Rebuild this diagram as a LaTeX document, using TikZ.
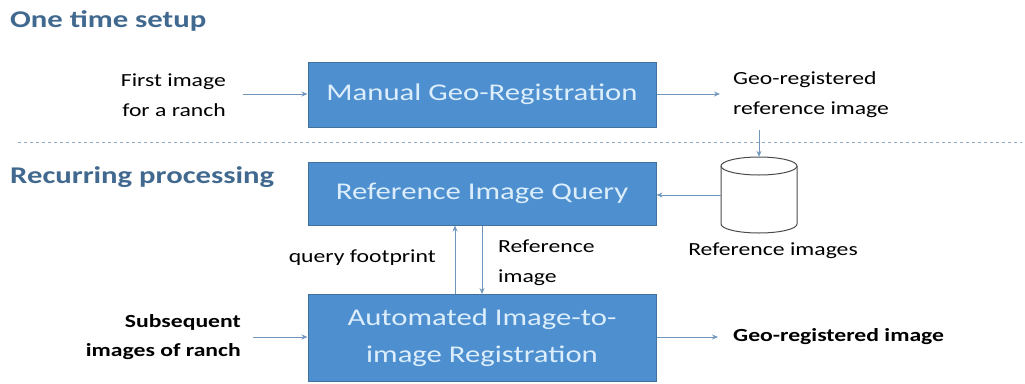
\documentclass[tikz,border=0pt]{standalone}
\usepackage{fontspec}
\setmainfont{Carlito}[FakeStretch=1.28]
\usetikzlibrary{arrows.meta}
\definecolor{boxfill}{HTML}{4E8FD0}
\definecolor{boxline}{HTML}{41719C}
\definecolor{boxtext}{HTML}{DCEEFB}
\definecolor{titlecol}{HTML}{41698F}
\definecolor{arrowcol}{HTML}{7096BE}
\definecolor{dashcol}{HTML}{8FA9C4}
\begin{document}
\begin{tikzpicture}[x=1pt,y=-1pt,
  procbox/.style={draw=boxline,line width=1pt,fill=boxfill,text=boxtext,align=center,
    font=\fontsize{24}{37}\selectfont,inner sep=0pt},
  lbl/.style={align=left,font=\fontsize{18.5}{30}\selectfont,inner sep=0pt},
  boldlbl/.style={lbl,font=\bfseries\fontsize{18.5}{29}\selectfont},
  ttl/.style={anchor=west,text=titlecol,font=\bfseries\fontsize{24}{28}\selectfont,inner sep=0pt},
  flow/.style={draw=arrowcol,line width=1pt,-{Stealth[length=6pt,width=5pt]}}]
\useasboundingbox (0,0) rectangle (1025,383);
\node[ttl] (t1) at (10,21) {One time setup};
\node[ttl] (t2) at (10,177) {Recurring processing};
\draw[dashcol,dashed,line width=1pt] (18,142) -- (1022,142);
\node[procbox,minimum width=348pt,minimum height=65pt] (mgr) at (482,94.5) {Manual Geo-Registration};
\node[procbox,minimum width=348pt,minimum height=63pt] (riq) at (482,193.5) {Reference Image Query};
\node[procbox,minimum width=348pt,minimum height=87pt] (air) at (482,338) {Automated Image-to-\\image Registration};
\node[lbl,align=right,anchor=east] (first) at (226,95) {First image\\for a ranch};
\node[lbl,anchor=west] (georef) at (733,95) {Geo-registered\\reference image};
% database cylinder
\node[inner sep=0pt,minimum width=76pt,minimum height=76pt] (db) at (759,195) {};
\draw[black!70,line width=1pt,fill=white]
  (721,166) -- (721,224) arc[start angle=180,end angle=360,x radius=38pt,y radius=9pt]
  -- (797,166);
\draw[black!70,line width=1pt,fill=white] (759,166) ellipse[x radius=38pt,y radius=9pt];
\node[lbl,anchor=center] (refimgs) at (773,251) {Reference images};
\node[lbl,anchor=east] (qf) at (436,258) {query footprint};
\node[lbl,anchor=west] (ri) at (498,263) {Reference\\image};
\node[boldlbl,align=right,anchor=east] (subs) at (241,337) {Subsequent\\images of ranch};
\node[boldlbl,anchor=west] (geo) at (733,337) {Geo-registered image};
\coordinate (fromfirst) at (243,94);
\coordinate (togeo) at (720,94);
\coordinate (fromgeoref) at (759,130);
\coordinate (fromsubs) at (253,337);
\coordinate (toout) at (718,337);
\draw[flow] (fromfirst) -- (mgr.west |- fromfirst);
\draw[flow] (mgr.east |- togeo) -- (togeo);
\draw[flow] (fromgeoref) -- (db.north);
\draw[flow] (db.west) -- (riq.east |- db.west);
\draw[flow] (air.north -| 455,0) -- (riq.south -| 455,0);
\draw[flow] (riq.south -| 482,0) -- (air.north -| 482,0);
\draw[flow] (fromsubs) -- (air.west |- fromsubs);
\draw[flow] (air.east |- toout) -- (toout);
\end{tikzpicture}
\end{document}
